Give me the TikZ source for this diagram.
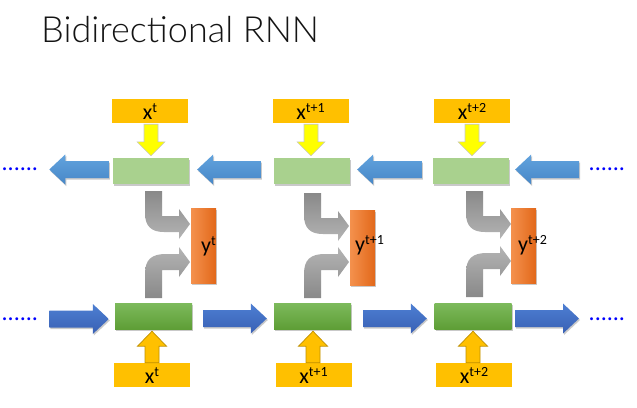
\documentclass[tikz,border=0pt]{standalone}
\usepackage{fontspec}
\setmainfont{Carlito}
\newfontfamily\titlefont{Lato Light}
\usetikzlibrary{calc,shadows}
\definecolor{xorange}{HTML}{FFC000}
\definecolor{xorangedk}{HTML}{BF9000}
\definecolor{yellowar}{HTML}{FFFF00}
\definecolor{lgreen}{HTML}{A9D18E}
\definecolor{dgreentop}{HTML}{7DBA5C}
\definecolor{dgreenbot}{HTML}{5E9E36}
\definecolor{lbluetop}{HTML}{62A3DE}
\definecolor{lbluebot}{HTML}{4787C7}
\definecolor{dbluetop}{HTML}{4D7FD2}
\definecolor{dbluebot}{HTML}{3960B4}
\definecolor{yorleft}{HTML}{F4914D}
\definecolor{yorright}{HTML}{E2681A}
\definecolor{graydark}{HTML}{898989}
\definecolor{graylight}{HTML}{B4B4B4}
\definecolor{dotblue}{HTML}{0000FF}
\newcommand\mysup[1]{\raisebox{7pt}{\fontsize{14}{14}\selectfont #1}}
\begin{document}
\begin{tikzpicture}[x=1pt,y=-1pt,
  title/.style={anchor=base west,inner sep=0pt,font=\titlefont\fontsize{36}{36}\selectfont,text=black!92},
  xbox/.style={fill=xorange,minimum width=76pt,minimum height=24pt,inner sep=0pt,
    text height=20.5pt,text depth=3.5pt,font=\fontsize{22}{22}\selectfont},
  softshadow/.style={drop shadow={shadow xshift=1pt,shadow yshift=-1.5pt,opacity=0.35,fill=black!60}},
  tgbox/.style={fill=lgreen,minimum width=76pt,minimum height=26pt,inner sep=0pt,softshadow},
  bgbox/.style={top color=dgreentop,bottom color=dgreenbot,minimum width=77pt,minimum height=26pt,inner sep=0pt,softshadow},
  ybox/.style={left color=yorleft,right color=yorright,minimum width=25pt,minimum height=75pt,inner sep=0pt,softshadow},
  ylab/.style={anchor=base west,inner sep=0pt,font=\fontsize{22}{22}\selectfont},
  dots/.style={anchor=west,inner sep=0pt,text=dotblue,font=\fontsize{24}{24}\selectfont},
  lblue/.style={top color=lbluetop,bottom color=lbluebot,softshadow},
  dblue/.style={top color=dbluetop,bottom color=dbluebot,softshadow},
  yarrow/.style={fill=yellowar,draw=black!22,line width=0.6pt},
  uarrow/.style={fill=xorange,draw=xorangedk,line width=0.7pt},
  graydn/.style={top color=graydark,bottom color=graylight},
  grayup/.style={top color=graylight,bottom color=graydark},
  rblk/.style={to path={let \p1=(\tikztostart), \p2=(\tikztotarget) in
    (\x1,\y1+8.5pt) -- (\x2-16pt,\y1+8.5pt) -- (\x2-16pt,\y1+15pt) -- (\x2,\y1)
    -- (\x2-16pt,\y1-15pt) -- (\x2-16pt,\y1-8.5pt) -- (\x1,\y1-8.5pt) -- cycle}},
  lblk/.style={to path={let \p1=(\tikztostart), \p2=(\tikztotarget) in
    (\x1,\y1+8.5pt) -- (\x2+16pt,\y1+8.5pt) -- (\x2+16pt,\y1+15pt) -- (\x2,\y1)
    -- (\x2+16pt,\y1-15pt) -- (\x2+16pt,\y1-8.5pt) -- (\x1,\y1-8.5pt) -- cycle}},
  dblk/.style={to path={let \p1=(\tikztostart), \p2=(\tikztotarget) in
    (\x1-7pt,\y1) -- (\x1-7pt,\y2+14pt) -- (\x1-14pt,\y2+14pt) -- (\x1,\y2)
    -- (\x1+14pt,\y2+14pt) -- (\x1+7pt,\y2+14pt) -- (\x1+7pt,\y1) -- cycle}},
  ublk/.style={to path={let \p1=(\tikztostart), \p2=(\tikztotarget) in
    (\x1-7pt,\y1) -- (\x1-7pt,\y2-15pt) -- (\x1-14.5pt,\y2-15pt) -- (\x1,\y2)
    -- (\x1+14.5pt,\y2-15pt) -- (\x1+7pt,\y2-15pt) -- (\x1+7pt,\y1) -- cycle}},
  pics/bentdown/.style={code={
    \shade[graydn] (0,0) -- (0,22) .. controls (0,35) and (6,41) .. (19,41) -- (34,41) -- (34,48)
      -- (45,33) -- (34,18) -- (34,25) -- (17,25) -- (17,0) -- cycle;}},
  pics/bentup/.style={code={
    \shade[grayup] (0,0) -- (0,-24) .. controls (0,-38) and (6,-44) .. (21,-44) -- (34,-44) -- (34,-51)
      -- (45,-36) -- (34,-21) -- (34,-28) -- (17,-28) -- (17,0) -- cycle;}}
]
\useasboundingbox (0,0) rectangle (637,407);
\fill[white] (0,0) rectangle (637,407);

\node[title] (title) at (41,42) {Bidirectional RNN};

% input boxes (top)
\node[xbox] (tx1) at (150,111) {x\mysup{t}};
\node[xbox] (tx2) at (310.5,111) {x\mysup{t+1}};
\node[xbox] (tx3) at (472,111) {x\mysup{t+2}};

% backward states (top)
\node[tgbox] (tg1) at (151,171) {};
\node[tgbox] (tg2) at (311.5,171) {};
\node[tgbox] (tg3) at (470.5,171) {};

% forward states (bottom)
\node[bgbox] (bg1) at (153.5,316) {};
\node[bgbox] (bg2) at (312.5,316) {};
\node[bgbox] (bg3) at (473,316) {};

% input boxes (bottom)
\node[xbox] (bx1) at (152,375) {x\mysup{t}};
\node[xbox] (bx2) at (313.5,375) {x\mysup{t+1}};
\node[xbox] (bx3) at (474,375) {x\mysup{t+2}};

% outputs
\node[ybox] (y1) at (203.5,245.5) {};
\node[ybox] (y2) at (362.5,247.5) {};
\node[ybox] (y3) at (523.5,245.5) {};
\node[ylab] (yl1) at (201,252.5) {y\mysup{t}};
\node[ylab] (yl2) at (355,251.5) {y\mysup{t+1}};
\node[ylab] (yl3) at (518,251) {y\mysup{t+2}};

% dots
\node[dots] (dl1) at (1.5,169.5) {......};
\node[dots] (dr1) at (588.5,169.5) {......};
\node[dots] (dl2) at (1.5,319) {......};
\node[dots] (dr2) at (588.5,319) {......};

% yellow input arrows (top)
\path[yarrow] ($(tx1.south)+(1,1)$) to[dblk] ($(tg1.north)+(0,-2)$);
\path[yarrow] ($(tx2.south)+(0.5,1)$) to[dblk] ($(tg2.north)+(0,-2)$);
\path[yarrow] ($(tx3.south)+(0,1)$) to[dblk] ($(tg3.north)+(0,-2)$);

% orange input arrows (bottom)
\path[uarrow] (bx1.north) to[ublk] ($(bg1.south)+(0,2)$);
\path[uarrow] ($(bx2.north)+(-0.5,0)$) to[ublk] ($(bg2.south)+(0,2)$);
\path[uarrow] ($(bx3.north)+(-1,0)$) to[ublk] ($(bg3.south)+(0,2)$);

% backward (top) blue arrows, pointing left
\shade[lblue] ($(tg1.west)+(-4,-1.5)$) to[lblk] ($(dl1.east)+(11,0)$);
\shade[lblue] ($(tg2.west)+(-12.5,-1.5)$) to[lblk] ($(tg1.east)+(8,0)$);
\shade[lblue] ($(tg3.west)+(-10.5,-1.5)$) to[lblk] ($(tg2.east)+(7.5,0)$);
\shade[lblue] ($(dr1.west)+(-9.5,0)$) to[lblk] ($(tg3.east)+(6.5,0)$);

% forward (bottom) blue arrows, pointing right
\shade[dblue] ($(dl2.east)+(11,0)$) to[rblk] ($(bg1.west)+(-6,0)$);
\shade[dblue] ($(bg1.east)+(11,2.5)$) to[rblk] ($(bg2.west)+(-7,0)$);
\shade[dblue] ($(bg2.east)+(12,2.5)$) to[rblk] ($(bg3.west)+(-7.5,0)$);
\shade[dblue] ($(bg3.east)+(3.5,2.5)$) to[rblk] ($(dr2.west)+(-9.5,0)$);

% gray bent arrows into outputs
\pic at (145,191) {bentdown};
\pic at (145,298) {bentup};
\pic at (304,193) {bentdown};
\pic at (304,298) {bentup};
\pic at (466,191) {bentdown};
\pic at (466,297) {bentup};
\end{tikzpicture}
\end{document}
